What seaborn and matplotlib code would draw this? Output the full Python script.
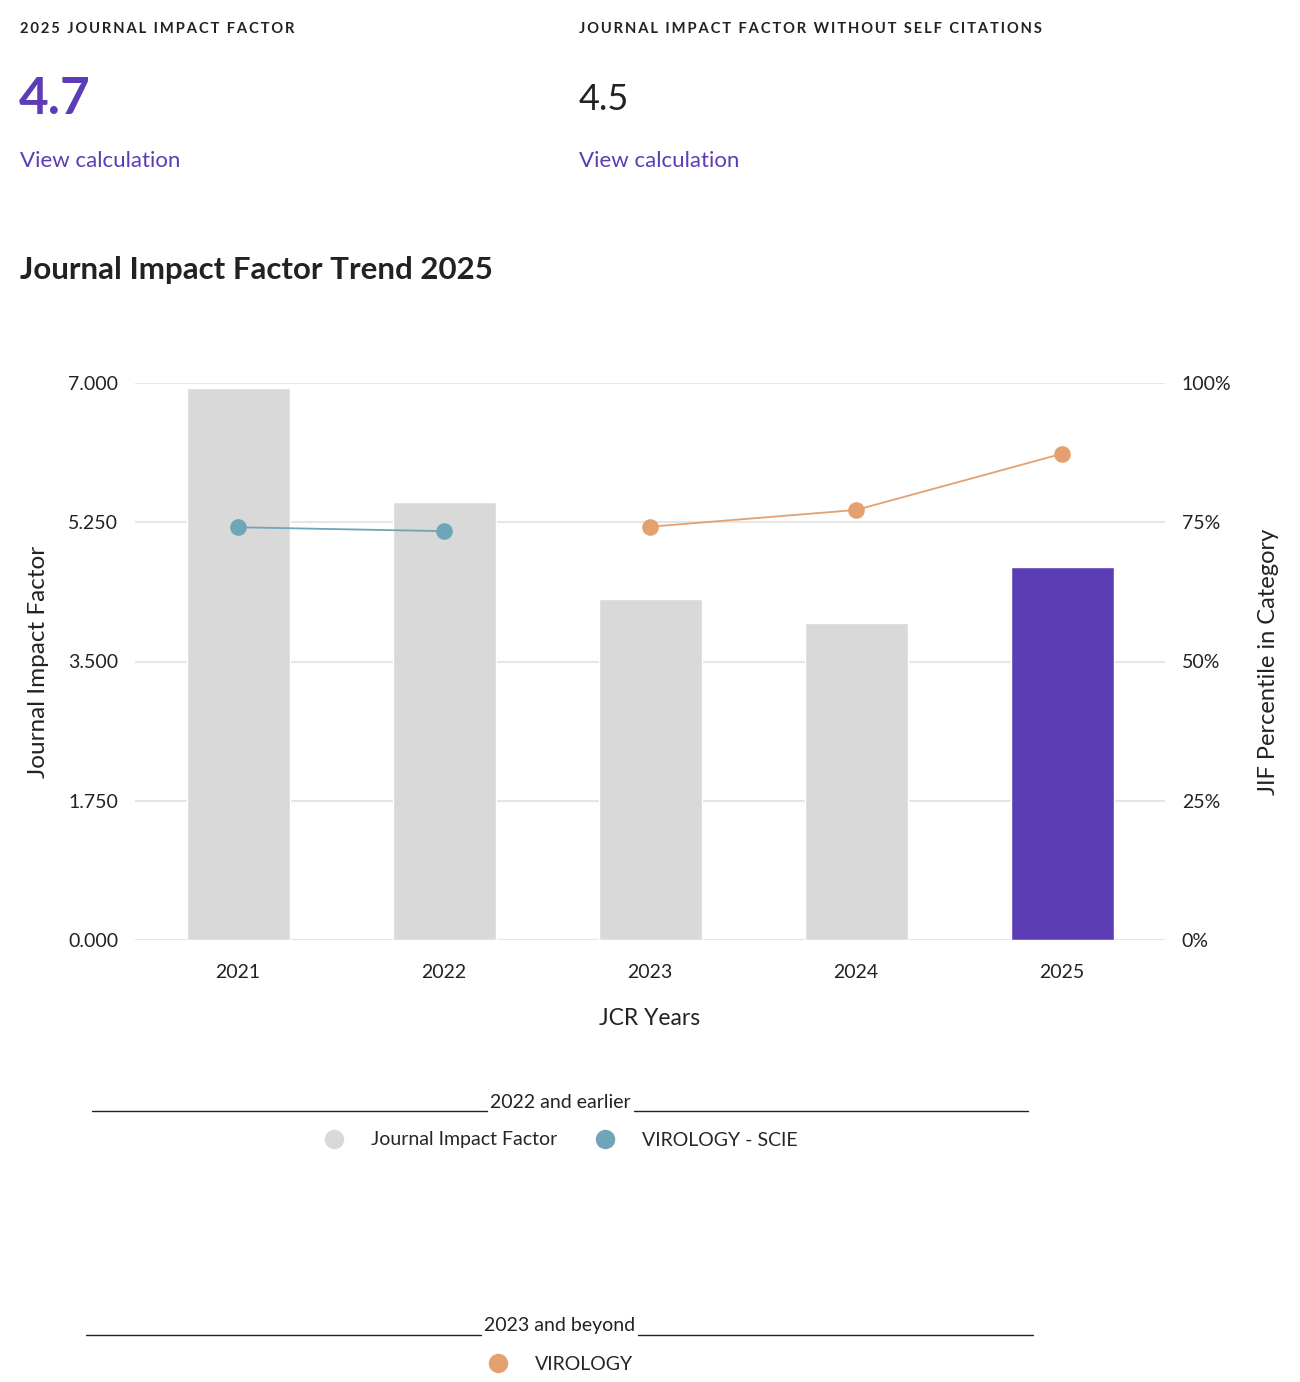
import matplotlib
matplotlib.use('Agg')
import matplotlib.pyplot as plt
from matplotlib.lines import Line2D
import seaborn as sns

# data
years = ['2021', '2022', '2023', '2024', '2025']
jif = [6.94, 5.5, 4.29, 3.99, 4.69]
bar_colors = ['#d9d9d9', '#d9d9d9', '#d9d9d9', '#d9d9d9', '#5c3db5']

old_years = ['2021', '2022']
old_pct = [74.1, 73.4]
new_years = ['2023', '2024', '2025']
new_pct = [74.2, 77.2, 87.3]

jif_ticks = [0, 1.75, 3.5, 5.25, 7.0]
pct_ticks = [0, 25, 50, 75, 100]

PURPLE = '#5c3db5'
TEAL = '#6fa5b8'
ORANGE = '#e5a070'
DARK = '#222222'

sns.set_theme(style='white')
plt.rcParams['font.family'] = ['Lato', 'DejaVu Sans']

W, H = 1300, 1382
fig = plt.figure(figsize=(W / 100, H / 100), dpi=100)


def fy(py):
    return 1 - py / H


def fx(px):
    return px / W


def spaced(s):
    return '\u2009'.join(s)


# header block
fig.text(fx(20), fy(29), spaced('2025 JOURNAL IMPACT FACTOR'), fontsize=10.6,
         fontweight='bold', color=DARK, va='center')
fig.text(fx(579), fy(29), spaced('JOURNAL IMPACT FACTOR WITHOUT SELF CITATIONS'),
         fontsize=10.6, fontweight='bold', color=DARK, va='center')
fig.text(fx(19), fy(114), '4.7', fontsize=37, fontweight='bold', color=PURPLE,
         va='baseline')
fig.text(fx(579), fy(110), '4.5', fontsize=26, color=DARK, va='baseline')
fig.text(fx(20), fy(161), 'View calculation', fontsize=16, color=PURPLE, va='center')
fig.text(fx(579), fy(161), 'View calculation', fontsize=16, color=PURPLE, va='center')
fig.text(fx(20), fy(270), 'Journal Impact Factor Trend 2025', fontsize=22.5,
         fontweight='bold', color=DARK, va='center')

# chart
ax = fig.add_axes([fx(135), fy(940), fx(1165) - fx(135), (940 - 383) / H])
sns.barplot(x=years, y=jif, hue=years, palette=bar_colors, width=0.5,
            legend=False, ax=ax, saturation=1)
ax.set_xlim(-0.5, len(years) - 0.5)
ax.set_ylim(0, 7)
ax.set_yticks(jif_ticks)
ax.set_yticklabels([f'{t:.3f}' for t in jif_ticks])
ax.grid(axis='y', color='#e6e6e6', linewidth=1.5)
ax.set_axisbelow(True)
for s in ax.spines.values():
    s.set_visible(False)
ax.tick_params(axis='both', length=0, labelsize=14, colors=DARK)
ax.tick_params(axis='y', pad=12)
ax.tick_params(axis='x', pad=17)
ax.set_xlabel('JCR Years', fontsize=16.5, color=DARK, labelpad=20)
ax.set_ylabel('Journal Impact Factor', fontsize=17.5, color=DARK, labelpad=14)

ax2 = ax.twinx()
ax2.set_ylim(0, 100)
ax2.set_yticks(pct_ticks)
ax2.set_yticklabels([f'{t}%' for t in pct_ticks])
for s in ax2.spines.values():
    s.set_visible(False)
ax2.tick_params(axis='y', length=0, labelsize=14, colors=DARK, pad=12)
ax2.set_ylabel('JIF Percentile in Category', fontsize=17, color=DARK, labelpad=19)

old_x = [years.index(y) for y in old_years]
new_x = [years.index(y) for y in new_years]
sns.lineplot(x=old_x, y=old_pct, color=TEAL, linewidth=1.3, marker='o',
             markersize=12, markeredgewidth=0, ax=ax2)
sns.lineplot(x=new_x, y=new_pct, color=ORANGE, linewidth=1.3, marker='o',
             markersize=12, markeredgewidth=0, ax=ax2)
ax2.set_xlim(-0.5, len(years) - 0.5)


# legend groups
def group_header(text, py, left, right, gap_l, gap_r):
    fig.text(fx(560), fy(py), text, fontsize=14, color=DARK, ha='center', va='center')
    fig.add_artist(Line2D([fx(left), fx(gap_l)], [fy(py + 9), fy(py + 9)],
                          color=DARK, linewidth=1))
    fig.add_artist(Line2D([fx(gap_r), fx(right)], [fy(py + 9), fy(py + 9)],
                          color=DARK, linewidth=1))


group_header('2022 and earlier', 1102, 92, 1028, 487, 634)
group_header('2023 and beyond', 1326, 86, 1033, 481, 638)

h1 = [Line2D([], [], marker='o', linestyle='', markersize=14, markeredgewidth=0,
             color='#d9d9d9'),
      Line2D([], [], marker='o', linestyle='', markersize=14, markeredgewidth=0,
             color=TEAL)]
fig.legend(h1, ['Journal Impact Factor', 'VIROLOGY - SCIE'], ncol=2,
           loc='center', bbox_to_anchor=(fx(561), fy(1140)), frameon=False,
           fontsize=14, handletextpad=1.4, columnspacing=2.0, handlelength=1.0)
h2 = [Line2D([], [], marker='o', linestyle='', markersize=14, markeredgewidth=0,
             color=ORANGE)]
fig.legend(h2, ['VIROLOGY'], loc='center', bbox_to_anchor=(fx(561), fy(1364)),
           frameon=False, fontsize=14, handletextpad=1.4, handlelength=1.0)

fig.savefig('out.png', dpi=100)
